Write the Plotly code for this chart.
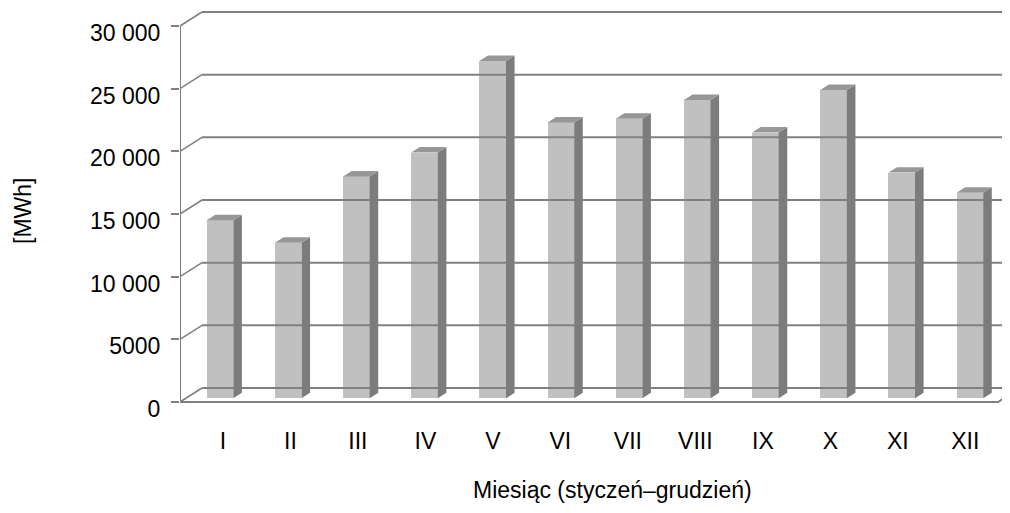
import plotly.graph_objects as go

# ---- data ----
months = ["I", "II", "III", "IV", "V", "VI", "VII", "VIII", "IX", "X", "XI", "XII"]
energy_mwh = [14200, 12400, 17700, 19600, 26900, 22000, 22300, 23800, 21200, 24600, 18000, 16400]
y_tick_values = [0, 5000, 10000, 15000, 20000, 25000, 30000]
y_tick_labels = ["0", "5000", "10 000", "15 000", "20 000", "25 000", "30 000"]
x_title = "Miesiąc (styczeń–grudzień)"
y_title = "[MWh]"

# ---- pseudo-3D geometry (oblique projection) ----
PAGE_OFF = 8                  # browser default body margin
W, H = 1010 - PAGE_OFF, 513 - PAGE_OFF
ML, MR, MT, MB = 180 - PAGE_OFF, 0, 0, 108
plot_w = W - ML - MR
plot_h = H - MT - MB
px_per_cat = 68.17
px_per_val = 376 / 30000.0
front_zero_px = 402 - PAGE_OFF          # pixel row (in figure) of value 0 on front plane
plot_bottom_px = MT + plot_h
x_range = [0, plot_w / px_per_cat]
y_bottom = (front_zero_px - plot_bottom_px) / px_per_val
y_range = [y_bottom, y_bottom + plot_h / px_per_val]
DX = 22 / px_per_cat          # full depth shift in category units
DY = 14 / px_per_val          # full depth shift in value units
d0, d1 = 0.27, 0.66           # bar depth span
bw = 0.39                     # bar width in category units
n = len(months)
ymax = y_tick_values[-1]

LINE = "#808080"
FRONT = "#c0c0c0"
SIDE = "#7c7c7c"
TOP = "#979797"
FONT = "Liberation Sans, Arial, sans-serif"
FS = 23

fig = go.Figure()

# back wall gridlines
gx, gy = [], []
for t in y_tick_values:
    gx += [DX, n + DX, None]
    gy += [t + DY, t + DY, None]
fig.add_trace(go.Scatter(x=gx, y=gy, mode="lines", line=dict(color=LINE, width=2),
                         hoverinfo="skip", showlegend=False))

# left wall diagonals
lx, ly = [], []
for t in y_tick_values:
    lx += [0, DX, None]
    ly += [t, t + DY, None]
fig.add_trace(go.Scatter(x=lx, y=ly, mode="lines", line=dict(color=LINE, width=1.6),
                         hoverinfo="skip", showlegend=False))

# floor front edge + right diagonal, vertical axis line
fig.add_trace(go.Scatter(x=[0, n, n + DX], y=[0, 0, DY], mode="lines",
                         line=dict(color=LINE, width=2), hoverinfo="skip", showlegend=False))
fig.add_trace(go.Scatter(x=[0, 0], y=[0, ymax], mode="lines",
                         line=dict(color=LINE, width=2), hoverinfo="skip", showlegend=False))

# bars: front faces
centers = [i + 0.5 for i in range(n)]
fig.add_trace(go.Bar(x=[c + d0 * DX for c in centers], y=energy_mwh,
                     base=[d0 * DY] * n, width=bw,
                     marker=dict(color=FRONT, line=dict(width=0)),
                     showlegend=False, hoverinfo="skip"))

# side faces
sx, sy = [], []
for c, v in zip(centers, energy_mwh):
    xr = c + bw / 2
    sx += [xr + d0 * DX, xr + d1 * DX, xr + d1 * DX, xr + d0 * DX, xr + d0 * DX, None]
    sy += [d0 * DY, d1 * DY, v + d1 * DY, v + d0 * DY, d0 * DY, None]
fig.add_trace(go.Scatter(x=sx, y=sy, mode="lines", fill="toself", fillcolor=SIDE,
                         line=dict(width=0, color=SIDE), hoverinfo="skip", showlegend=False))

# top faces
tx, ty = [], []
for c, v in zip(centers, energy_mwh):
    xl, xr = c - bw / 2, c + bw / 2
    tx += [xl + d0 * DX, xr + d0 * DX, xr + d1 * DX, xl + d1 * DX, xl + d0 * DX, None]
    ty += [v + d0 * DY, v + d0 * DY, v + d1 * DY, v + d1 * DY, v + d0 * DY, None]
fig.add_trace(go.Scatter(x=tx, y=ty, mode="lines", fill="toself", fillcolor=TOP,
                         line=dict(width=0, color=TOP), hoverinfo="skip", showlegend=False))


def paper_x(px):
    return (px - PAGE_OFF - ML) / plot_w


def paper_y(py):
    return (MT + plot_h - (py - PAGE_OFF)) / plot_h


fig.update_layout(
    width=W, height=H,
    margin=dict(l=ML, r=MR, t=MT, b=MB, pad=0),
    paper_bgcolor="white", plot_bgcolor="white",
    font=dict(family=FONT, size=FS, color="black"),
    bargap=0,
    xaxis=dict(range=x_range, showgrid=False, zeroline=False, showline=False,
               tickmode="array", tickvals=[c + 0.13 - 0.01 * i for i, c in enumerate(centers)],
               ticktext=months, ticks="", ticklabelstandoff=20, tickfont=dict(size=FS)),
    yaxis=dict(range=y_range, showgrid=False, zeroline=False, showline=False,
               tickmode="array", tickvals=y_tick_values, ticktext=y_tick_labels,
               ticks="outside", ticklen=8, tickwidth=2, tickcolor=LINE,
               ticklabelstandoff=6, ticklabelshift=7, tickfont=dict(size=FS)),
    annotations=[
        dict(text=x_title, xref="paper", yref="paper",
             x=paper_x(612), y=paper_y(490),
             xanchor="center", yanchor="middle", showarrow=False, font=dict(size=FS)),
        dict(text=y_title, xref="paper", yref="paper",
             x=paper_x(23), y=paper_y(211),
             xanchor="center", yanchor="middle", textangle=-90, showarrow=False,
             font=dict(size=FS)),
    ],
)

fig.write_html("out.html")
